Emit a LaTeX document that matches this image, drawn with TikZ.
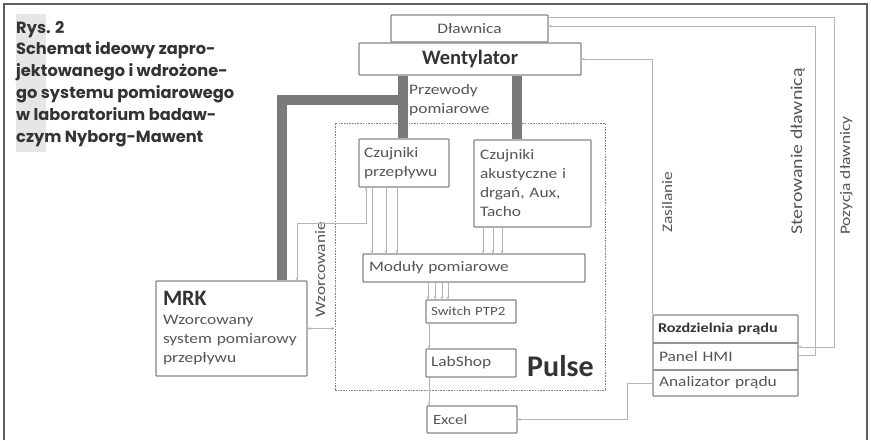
\documentclass[tikz,border=0pt]{standalone}
\usepackage{fontspec}
\setmainfont{Carlito}[FakeStretch=1.2]
\newfontfamily\plainf{Carlito}
\newfontfamily\titlefont{Poppins}
\usetikzlibrary{arrows.meta}
\definecolor{boxgray}{HTML}{858585}
\definecolor{txtgray}{HTML}{555555}
\definecolor{txtdark}{HTML}{333333}
\definecolor{conngray}{HTML}{B5B5B5}
\definecolor{ductgray}{HTML}{7A7A7A}
\definecolor{framec}{HTML}{5E5E5E}
\definecolor{bandgray}{HTML}{E6E6E8}
\begin{document}
\begin{tikzpicture}[x=1pt,y=-1pt,
  box/.style={draw=boxgray, line width=1.3pt, rectangle, rounded corners=0.8pt, inner sep=0pt, text=txtgray, font=\fontsize{14.5}{19}\selectfont},
  conn/.style={draw=conngray, line width=0.8pt, -{Stealth[length=3pt,width=3pt]}},
  conn2/.style={draw=conngray, line width=0.8pt, {Stealth[length=3pt,width=3pt]}-{Stealth[length=3pt,width=3pt]}},
  duct/.style={draw=ductgray, line width=10pt},
  lbl/.style={text=txtgray, font=\fontsize{14.5}{19}\selectfont, inner sep=0pt},
  rlbl/.style={lbl, rotate=90, anchor=base west},
  ttl/.style={anchor=base west, inner sep=0pt, text=txtdark, font=\titlefont\bfseries\fontsize{16.2}{22}\selectfont},
]
\useasboundingbox (0,0) rectangle (871,440);
% frame
\draw[framec, line width=1.5pt] (4,440) -- (4,4) -- (867,4) -- (867,440);
% title
\fill[bandgray] (16,14) rectangle (46,152);
\node[ttl] (t1) at (16,33) {Rys. 2};
\node[ttl] (t2) at (16,54) {Schemat ideowy zapro-};
\node[ttl] (t3) at (16,76) {jektowanego i wdrożone-};
\node[ttl] (t4) at (16,98) {go systemu pomiarowego};
\node[ttl] (t5) at (16,120) {w laboratorium badaw-};
\node[ttl] (t6) at (16,142) {czym Nyborg-Mawent};

% Pulse area
\node[draw=boxgray, line width=0.9pt, dash pattern=on 1.6pt off 1.1pt, minimum width=270pt, minimum height=267pt, inner sep=0pt] (pulse) at (470,256.5) {};
\node[text=txtdark, font=\plainf\fontsize{30}{32}\selectfont\bfseries, inner sep=0pt, anchor=base west] (pl) at (527,376) {Pulse};

% coordinates
\coordinate (d1) at (403,0);
\coordinate (d2) at (517,0);
\coordinate (dk) at (282,100);
\coordinate (p1) at (372,0);
\coordinate (p2) at (386,0);
\coordinate (p3) at (397,0);
\coordinate (a1) at (483,0);
\coordinate (a2) at (493,0);
\coordinate (a3) at (502,0);
\coordinate (s1) at (428,0);
\coordinate (s2) at (435,0);
\coordinate (s3) at (442,0);
\coordinate (s4) at (448,0);
\coordinate (lx) at (429,0);
\coordinate (wa) at (297,0);
\coordinate (wb) at (366,223);
\coordinate (st) at (815,26);
\coordinate (pz) at (834,17);
\coordinate (an) at (627,419.5);

% boxes
\node[box, minimum width=157pt, minimum height=27pt] (dl) at (469.5,28.5) {Dławnica};
\node[box, minimum width=222pt, minimum height=32pt, text=txtdark, font=\plainf\fontsize{20.5}{22}\selectfont\bfseries] (went) at (470,59) {Wentylator};
\node[box, minimum width=90pt, minimum height=48pt, text width=80pt, align=left] (czp) at (404,163) {Czujniki\\przepływu};
\node[box, minimum width=117pt, minimum height=87pt, text width=105pt, align=left] (cza) at (532.5,183.5) {Czujniki\\akustyczne i\\drgań, Aux,\\Tacho};
\node[box, minimum width=222pt, minimum height=28pt, text width=210pt, align=left] (mod) at (474,268) {Moduły pomiarowe};
\node[box, minimum width=90pt, minimum height=23pt, text width=80pt, align=left, font=\fontsize{12.5}{14}\selectfont] (sw) at (471,311.5) {Switch PTP2};
\node[box, minimum width=90pt, minimum height=28pt, text width=80pt, align=left, font=\fontsize{14.5}{16}\selectfont] (lab) at (471,363) {LabShop};
\node[box, minimum width=90pt, minimum height=27pt, text width=78pt, align=left, font=\fontsize{14}{16}\selectfont] (exc) at (472,419.5) {Excel};
\node[box, minimum width=151pt, minimum height=95pt, text width=137pt, align=left] (mrk) at (231.5,328.5) {{\plainf\fontsize{22}{21}\selectfont\bfseries\color{txtdark}MRK}\\Wzorcowany\\system pomiarowy\\przepływu};
\node[box, minimum width=145pt, minimum height=28pt, text width=135pt, align=left, text=txtdark, font=\fontsize{13.5}{16}\selectfont\bfseries] (roz) at (725.5,329) {Rozdzielnia prądu};
\node[box, minimum width=145pt, minimum height=27pt, text width=133pt, align=left, font=\fontsize{14.5}{16}\selectfont] (hmi) at (725.5,356.5) {Panel HMI};
\node[box, minimum width=145pt, minimum height=26pt, text width=133pt, align=left, font=\fontsize{14.5}{16}\selectfont] (ana) at (725.5,383) {Analizator prądu};

% ducts
\draw[duct] (went.south -| d1) -- (czp.north -| d1);
\draw[duct] (went.south -| d2) -- (cza.north -| d2);
\draw[duct] (mrk.north -| dk) -- (dk) -- (dk -| d1);

% labels
\node[lbl, anchor=west, align=left] (prz) at (409,100) {Przewody\\pomiarowe};
\node[rlbl] (wzl) at (325,318) {Wzorcowanie};
\node[rlbl] (zas) at (672,233) {Zasilanie};
\node[rlbl, font=\fontsize{16.5}{19}\selectfont] (ste) at (802,235) {Sterowanie dławnicą};
\node[rlbl] (poz) at (850,235) {Pozycja dławnicy};

% connectors
\draw[conn] (czp.south -| p1) -- (mod.north -| p1);
\draw[conn] (czp.south -| p2) -- (mod.north -| p2);
\draw[conn] (czp.south -| p3) -- (mod.north -| p3);
\draw[conn] (cza.south -| a1) -- (mod.north -| a1);
\draw[conn] (cza.south -| a2) -- (mod.north -| a2);
\draw[conn] (cza.south -| a3) -- (mod.north -| a3);
\draw[conn] (mod.south -| s1) -- (sw.north -| s1);
\draw[conn] (mod.south -| s2) -- (sw.north -| s2);
\draw[conn] (mod.south -| s3) -- (sw.north -| s3);
\draw[conn] (mod.south -| s4) -- (sw.north -| s4);
\draw[conn] (sw.south -| lx) -- (lab.north -| lx);
\draw[conn] (lab.south -| lx) -- (exc.north -| lx);
\draw[conn2] (mrk.north -| wa) |- (wb) -- (czp.south -| wb);
\draw[conn2] (mrk.east) -- (mrk.east -| pulse.west);
\draw[conn] (roz.north west) |- (went.east);
\draw[conn] ([yshift=1.5pt]hmi.east) -| (st) -- (st -| dl.east);
\draw[conn] (dl.east |- pz) -- (pz) |- ([yshift=9.5pt]hmi.east);
\draw[conn] (ana.west) -| (an) -- (exc.east);
\end{tikzpicture}
\end{document}
